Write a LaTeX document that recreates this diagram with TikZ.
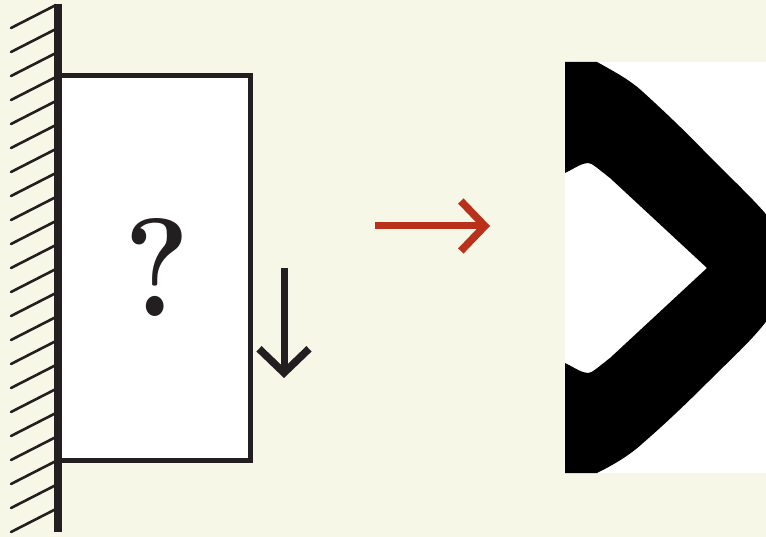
\documentclass[tikz,border=0pt]{standalone}
\usetikzlibrary{arrows.meta}
\definecolor{paper}{HTML}{F7F7E8}
\definecolor{ink}{HTML}{231F20}
\definecolor{rust}{HTML}{B9311A}
\begin{document}
\begin{tikzpicture}[x=1pt,y=-1pt,
				box/.style={rectangle,draw=ink,fill=white,line width=5pt,minimum width=192pt,minimum height=384pt,inner sep=0pt,text=ink},
				hatch/.style={ink,line width=2.6pt,line cap=round},
				load/.style={ink,line width=7pt,-{Straight Barb[length=24pt,width=50pt,line width=7.5pt]}},
				goes/.style={rust,line width=7pt,-{Straight Barb[length=24pt,width=50pt,line width=7.5pt]}}]
\fill[paper] (0,0) rectangle (766,537);
\useasboundingbox (0,0) rectangle (766,537);
% clamped wall
\foreach \y in {28,52,...,532}
	\draw[hatch] (11,\y) -- (56,\y-23);
\node[box] (design) at (154,268) {\fontsize{140}{140}\selectfont\bfseries\hspace{6pt}\scalebox{0.88}[1]{?}};
\fill[ink] (54,4) rectangle (62,532);
% load on the free edge
\coordinate (loadtop) at (284,268);
\coordinate (loadend) at (284,378);
\draw[load] (loadtop) -- (loadend);
% from the problem to the result
\coordinate (goesfrom) at (375,226);
\coordinate (goesto) at (490,226);
\draw[goes] (goesfrom) -- (goesto);
% optimized result
\fill[white] (565,62) rectangle (766,473);
\begin{scope}
\clip (565,62) rectangle (766,473);
\fill[black] (565,62) -- (597,62) .. controls (615,72) and (630,80) .. (643,92)
	.. controls (665,112) and (688,134) .. (710,157)
	.. controls (730,177) and (750,196) .. (765,213)
	.. controls (785,240) and (785,296) .. (765,323)
	.. controls (750,342) and (730,360) .. (710,380)
	.. controls (688,402) and (665,424) .. (643,443)
	.. controls (630,455) and (615,464) .. (597,473) -- (565,473) -- (565,363)
	.. controls (575,368) and (582,373) .. (588,373)
	.. controls (592,373) and (597,368) .. (610,358)
	-- (707,268) -- (610,178)
	.. controls (597,168) and (592,163) .. (588,163)
	.. controls (582,163) and (575,168) .. (565,173) -- cycle;
\end{scope}
\end{tikzpicture}
\end{document}
